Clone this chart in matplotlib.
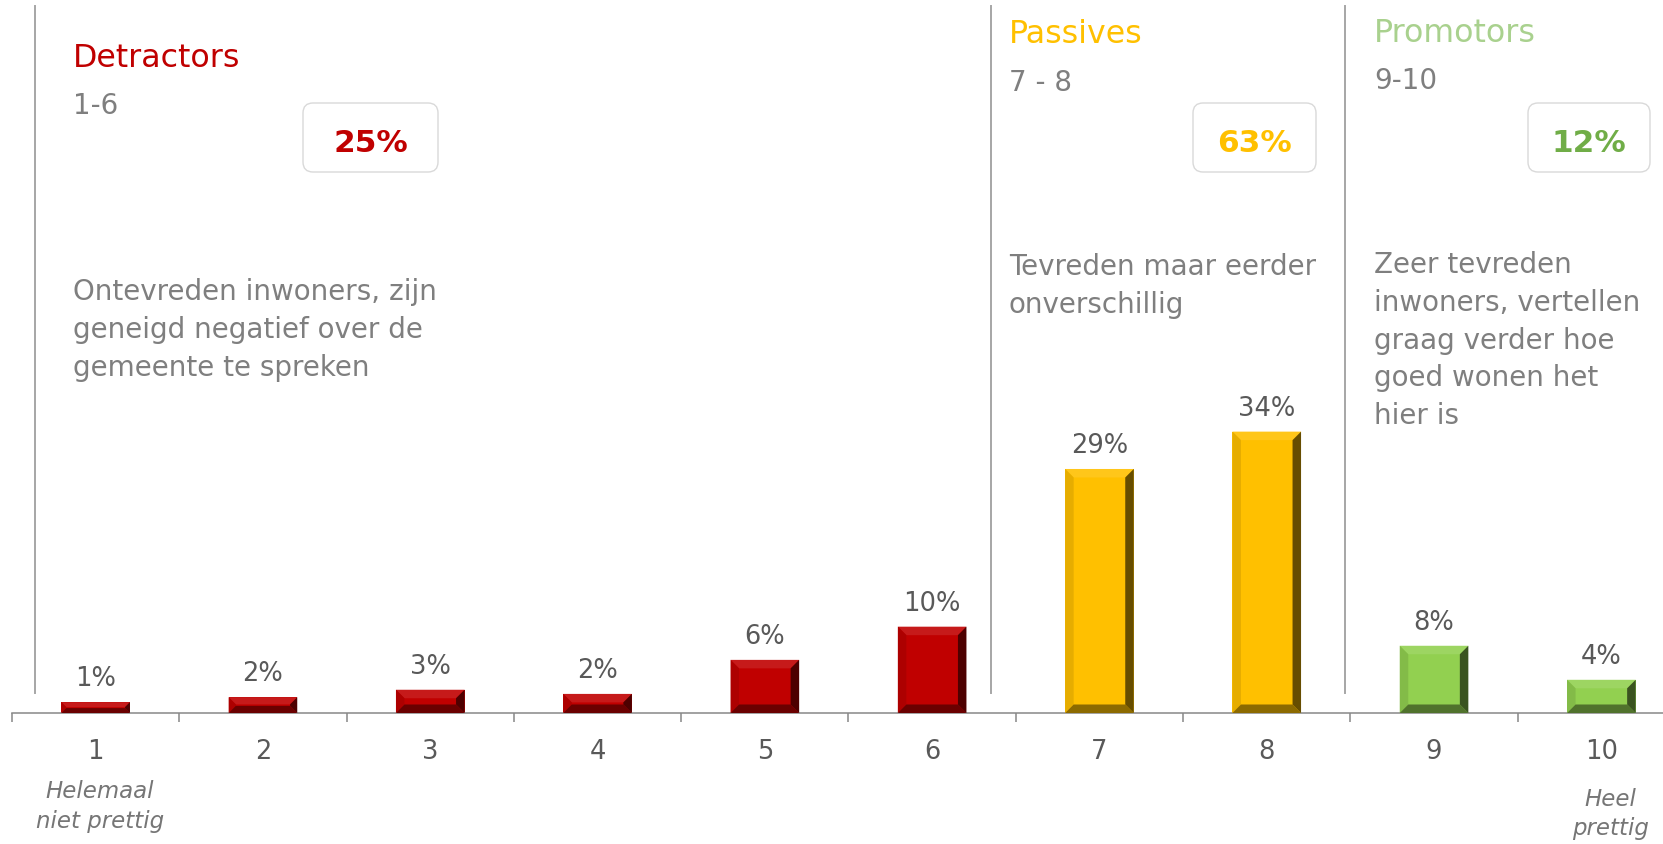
import matplotlib
matplotlib.use('Agg')
import matplotlib.pyplot as plt
from matplotlib.patches import Polygon, FancyBboxPatch
from matplotlib.colors import to_rgb
import numpy as np

# ---------------- data ----------------
categories = ['1', '2', '3', '4', '5', '6', '7', '8', '9', '10']
values = [1.3, 1.9, 2.8, 2.3, 6.4, 10.4, 29.4, 33.9, 8.1, 4.0]
value_labels = ['1%', '2%', '3%', '2%', '6%', '10%', '29%', '34%', '8%', '4%']
group_of_bar = [0, 0, 0, 0, 0, 0, 1, 1, 2, 2]
groups = ['Detractors', 'Passives', 'Promotors']
group_ranges = ['1-6', '7 - 8', '9-10']
group_totals = ['25%', '63%', '12%']
group_desc = [
    ['Ontevreden inwoners, zijn', 'geneigd negatief over de', 'gemeente te spreken'],
    ['Tevreden maar eerder', 'onverschillig'],
    ['Zeer tevreden', 'inwoners, vertellen', 'graag verder hoe', 'goed wonen het', 'hier is'],
]
end_labels = [['Helemaal', 'niet prettig'], ['Heel', 'prettig']]

# ---------------- style ----------------
bar_colors = ['#C00000', '#FFC000', '#92D050']
title_colors = ['#C00000', '#FFC000', '#A9D18E']
total_colors = ['#C00000', '#FFC000', '#70AD47']
grey_text = '#7F7F7F'
dark_text = '#595959'
axis_grey = '#888888'
sep_grey = '#A6A6A6'

W, H = 1663, 844
fig = plt.figure(figsize=(W / 100, H / 100), dpi=100)
fig.patch.set_facecolor('white')

base_px = 713          # y of the axis line (pixels from top)
cat_px = 167.3         # width of one category in pixels
px_per_pct = 8.3
left_px = 12

ax = fig.add_axes([left_px / W, (H - base_px) / H, (W - left_px) / W, base_px / H])
ax.set_xlim(0.5, 0.5 + (W - left_px) / cat_px)
ax.set_ylim(0, base_px / px_per_pct)
ax.set_facecolor('none')

x = np.arange(1, len(categories) + 1)
cols = [bar_colors[g] for g in group_of_bar]
bars = ax.bar(x, values, width=0.41, color=cols, zorder=2, linewidth=0)


def mix(c, other, t):
    c = np.array(to_rgb(c)); o = np.array(to_rgb(other))
    return tuple(c * (1 - t) + o * t)


inv = ax.transData.inverted()
for rect, col in zip(bars, cols):
    x0, y0 = rect.get_x(), rect.get_y()
    x1, y1 = x0 + rect.get_width(), y0 + rect.get_height()
    (X0, Y0), (X1, Y1) = ax.transData.transform([(x0, y0), (x1, y1)])
    b = min(8.5, (Y1 - Y0) / 2.2, (X1 - X0) / 2.5)
    shapes = [
        ([(X0, Y1), (X1, Y1), (X1 - b, Y1 - b), (X0 + b, Y1 - b)], mix(col, 'white', 0.10)),
        ([(X0, Y0), (X0 + b, Y0 + b), (X0 + b, Y1 - b), (X0, Y1)], mix(col, 'black', 0.10)),
        ([(X0, Y0), (X1, Y0), (X1 - b, Y0 + b), (X0 + b, Y0 + b)], mix(col, 'black', 0.45)),
        ([(X1, Y0), (X1, Y1), (X1 - b, Y1 - b), (X1 - b, Y0 + b)], mix(col, 'black', 0.6)),
    ]
    for pts, c in shapes:
        ax.add_patch(Polygon(inv.transform(pts), closed=True, facecolor=c,
                             edgecolor='none', zorder=3))

for xi, v, lbl in zip(x, values, value_labels):
    ax.annotate(lbl, (xi, v), xytext=(0, 11.5), textcoords='offset points',
                ha='center', va='baseline', fontsize=18.5, color=dark_text)

# axes styling
for s in ['top', 'left', 'right']:
    ax.spines[s].set_visible(False)
ax.spines['bottom'].set_color(axis_grey)
ax.spines['bottom'].set_linewidth(1.1)
ax.set_yticks([])
ax.set_xticks(x, categories)
ax.set_xticks(np.arange(0.5, len(categories) + 0.5, 1), minor=True)
ax.tick_params(axis='x', which='major', length=0, pad=19, labelsize=18.5,
               labelcolor=dark_text)
ax.tick_params(axis='x', which='minor', length=6.5, width=1.1, color=axis_grey,
               direction='out')

# group separators
for sx in [0.64, 6.35, 8.47]:
    ax.axvline(sx, ymin=(base_px - 693) / base_px, ymax=(base_px - 6) / base_px,
               color=sep_grey, linewidth=1.4, clip_on=False, zorder=1)


def t(xp, yp, s, **kw):
    return fig.text(xp / W, 1 - yp / H, s, **kw)


# group headers
title_pos = [(73, 67), (1009, 43), (1374, 42)]
range_pos = [(73, 114), (1009, 91), (1374, 89)]
desc_pos = [(73, 300), (1009, 275), (1374, 273)]
desc_step = 37.8
box_pos = [(303, 103, 438, 172), (1193, 103, 1316, 172), (1528, 103, 1650, 172)]

for i in range(3):
    t(*title_pos[i], groups[i], fontsize=22.8, color=title_colors[i], va='baseline', ha='left')
    t(*range_pos[i], group_ranges[i], fontsize=20, color=grey_text, va='baseline', ha='left')
    for j, line in enumerate(group_desc[i]):
        t(desc_pos[i][0], desc_pos[i][1] + j * desc_step, line, fontsize=20,
          color=grey_text, va='baseline', ha='left')
    bx0, by0, bx1, by1 = box_pos[i]
    box = FancyBboxPatch((bx0 / 100, (H - by1) / 100), (bx1 - bx0) / 100, (by1 - by0) / 100,
                         boxstyle='round,pad=0,rounding_size=0.1',
                         transform=fig.dpi_scale_trans, facecolor='white',
                         edgecolor='#D9D9D9', linewidth=1)
    fig.add_artist(box)
    t((bx0 + bx1) / 2, 152, group_totals[i], fontsize=22.5, fontweight='bold',
      color=total_colors[i], va='baseline', ha='center')

# end labels
end_pos = [(100, 798, 828), (1610, 806, 835)]
for (cx, y1, y2), lines in zip(end_pos, end_labels):
    t(cx, y1, lines[0], fontsize=16.5, style='italic', color='#767676', va='baseline', ha='center')
    t(cx, y2, lines[1], fontsize=16.5, style='italic', color='#767676', va='baseline', ha='center')

fig.savefig('out.png', dpi=100)
